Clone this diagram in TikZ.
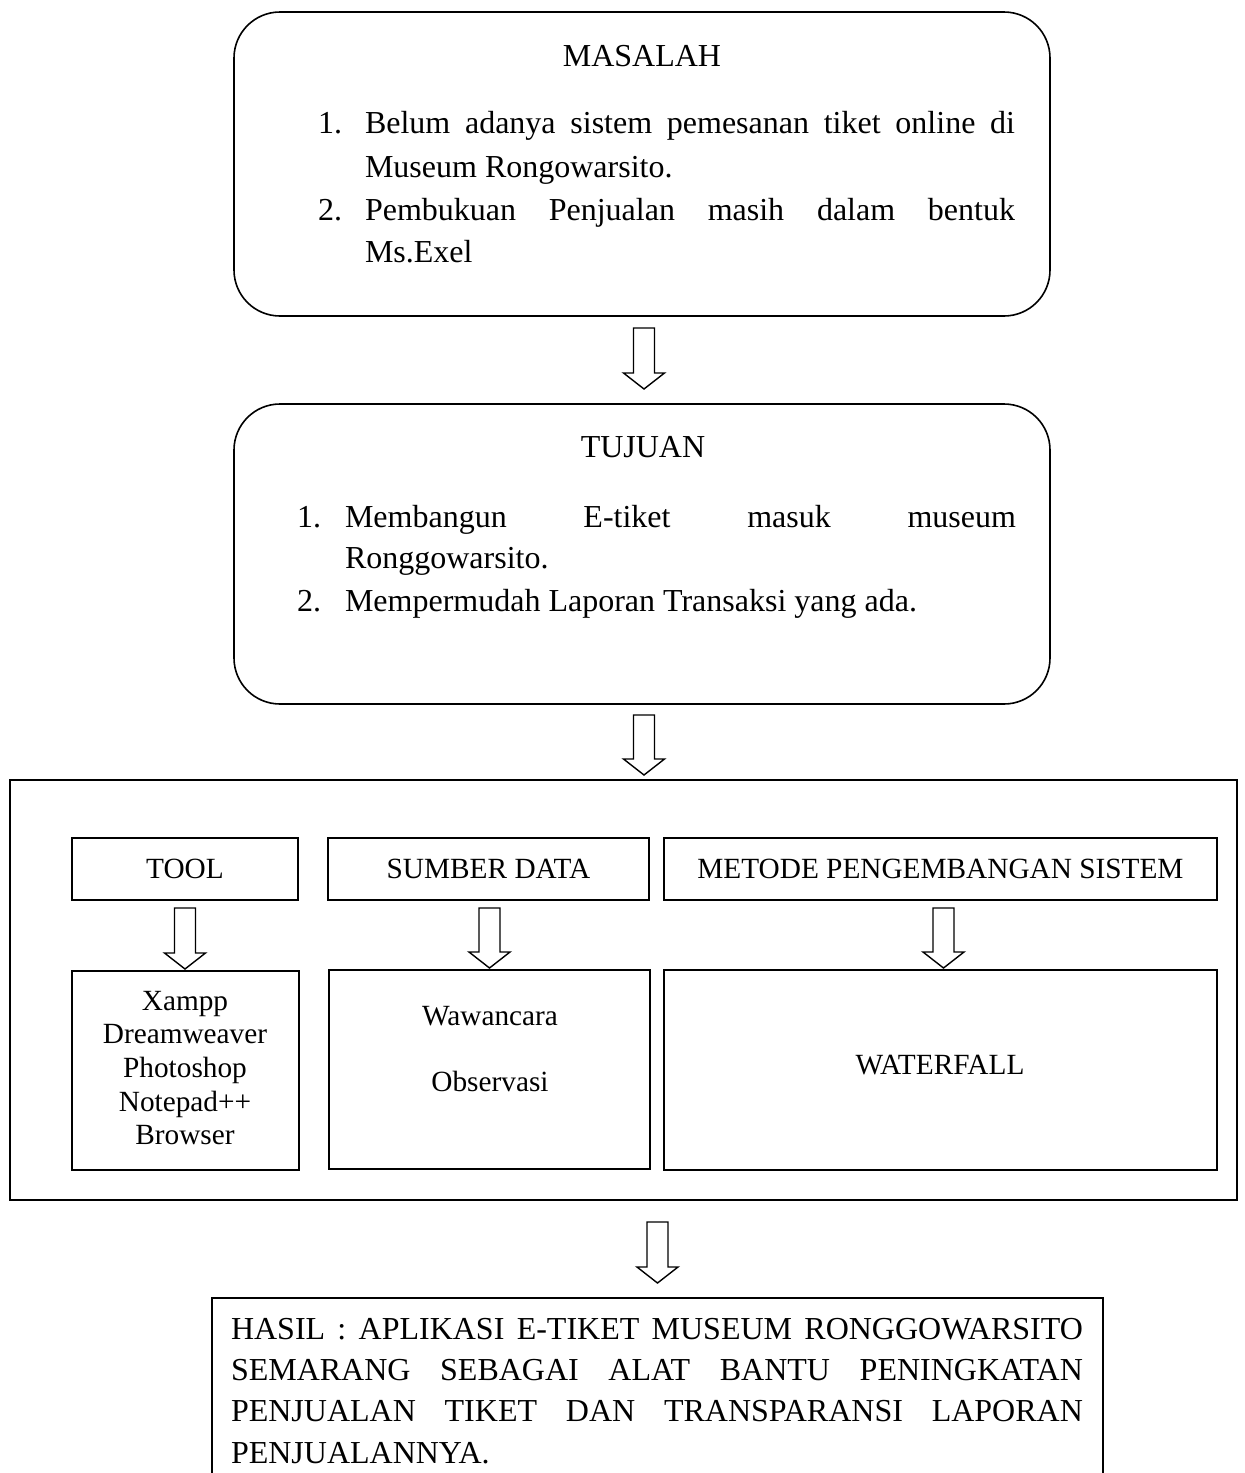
\documentclass[tikz,border=0pt]{standalone}
\usepackage{fontspec}
\setmainfont{Liberation Serif}
\usetikzlibrary{calc}

% a line of text spread to a fixed width (justified)
\newcommand\jline[2]{\makebox[#1][s]{#2}}

% hollow block arrow: shaft starts at #1, tip at #2 (x taken from #1)
\newcommand\blockarrow[2]{%
  \draw[hollow] let \p1=(#1), \p2=(#2) in
    (\x1-10.5pt,\y1) -- (\x1+10.5pt,\y1) -- (\x1+10.5pt,\y2+16pt)
    -- (\x1+20.5pt,\y2+16pt) -- (\x1,\y2) -- (\x1-20.5pt,\y2+16pt)
    -- (\x1-10.5pt,\y2+16pt) -- cycle;}

\tikzset{
  box/.style={draw, line width=1.6pt, inner sep=0pt, outer sep=0pt, anchor=north west},
  roundbox/.style={box, rounded corners=46pt},
  bigtxt/.style={font=\fontsize{32}{43}\selectfont, inner sep=0pt, outer sep=0pt},
  smalltxt/.style={font=\fontsize{29.3}{33.7}\selectfont, inner sep=0pt, outer sep=0pt, align=center},
  hollow/.style={draw, line width=1.4pt, fill=white, line join=miter},
}

\begin{document}
\begin{tikzpicture}[x=1pt,y=-1pt]
\clip (0,0) rectangle (1245,1473);
\fill[white] (0,0) rectangle (1245,1473);

% --- MASALAH ---
\node[roundbox, minimum width=816pt, minimum height=304pt] (masalah) at (234,12) {};
\node[bigtxt, anchor=base] (masalahT) at (642,66) {MASALAH};
\node[bigtxt, anchor=base west] (m1n) at (318,133) {1.};
\node[bigtxt, anchor=base west] (m1a) at (365,133) {\jline{650pt}{Belum adanya sistem pemesanan tiket online di}};
\node[bigtxt, anchor=base west] (m1b) at (365,177) {Museum Rongowarsito.};
\node[bigtxt, anchor=base west] (m2n) at (318,220) {2.};
\node[bigtxt, anchor=base west] (m2a) at (365,220) {\jline{650pt}{Pembukuan Penjualan masih dalam bentuk}};
\node[bigtxt, anchor=base west] (m2b) at (365,262) {Ms.Exel};

% --- TUJUAN ---
\node[roundbox, minimum width=816pt, minimum height=300pt] (tujuan) at (234,404) {};
\node[bigtxt, anchor=base] (tujuanT) at (643,457) {TUJUAN};
\node[bigtxt, anchor=base west] (t1n) at (297,527) {1.};
\node[bigtxt, anchor=base west] (t1a) at (345,527) {\jline{671pt}{Membangun E-tiket masuk museum}};
\node[bigtxt, anchor=base west] (t1b) at (345,568) {Ronggowarsito.};
\node[bigtxt, anchor=base west] (t2n) at (297,611) {2.};
\node[bigtxt, anchor=base west] (t2a) at (345,611) {Mempermudah Laporan Transaksi yang ada.};

% --- frame with the three columns ---
\node[box, minimum width=1227pt, minimum height=420pt] (outer) at (10,780) {};

\node[box, minimum width=226pt, minimum height=62pt] (tool) at (72,838) {};
\node[smalltxt] (toolT) at (tool.center) {TOOL};
\node[box, minimum width=321pt, minimum height=62pt] (sumber) at (328,838) {};
\node[smalltxt] (sumberT) at (sumber.center) {SUMBER DATA};
\node[box, minimum width=553pt, minimum height=62pt] (metode) at (664,838) {};
\node[smalltxt] (metodeT) at (metode.center) {METODE PENGEMBANGAN SISTEM};

\node[box, minimum width=227pt, minimum height=199pt] (toolitems) at (72,971) {};
\node[smalltxt] (toolL) at (185,1068) {Xampp\\Dreamweaver\\Photoshop\\Notepad++\\Browser};
\node[box, minimum width=321pt, minimum height=199pt] (sumberitems) at (329,970) {};
\node[smalltxt, anchor=base] (sumberL1) at (490,1025) {Wawancara};
\node[smalltxt, anchor=base] (sumberL2) at (490,1091) {Observasi};
\node[box, minimum width=553pt, minimum height=200pt] (metodeitems) at (664,970) {};
\node[smalltxt, anchor=base] (metodeL) at (940,1074) {WATERFALL};

% --- HASIL ---
\node[box, minimum width=891pt, minimum height=260pt] (hasil) at (212,1298) {};
\node[bigtxt, anchor=base west] (h1) at (231,1339) {\jline{852pt}{HASIL : APLIKASI E-TIKET MUSEUM RONGGOWARSITO}};
\node[bigtxt, anchor=base west] (h2) at (231,1380) {\jline{852pt}{SEMARANG SEBAGAI ALAT BANTU PENINGKATAN}};
\node[bigtxt, anchor=base west] (h3) at (231,1421) {\jline{852pt}{PENJUALAN TIKET DAN TRANSPARANSI LAPORAN}};
\node[bigtxt, anchor=base west] (h4) at (231,1463) {PENJUALANNYA.};

% --- arrows ---
\blockarrow{$(masalah.south)+(2,12)$}{$(tujuan.north)+(0,-15)$}
\blockarrow{$(tujuan.south)+(2,11)$}{$(outer.north)+(0,-5)$}
\blockarrow{$(tool.south)+(0,8)$}{$(toolitems.north)+(0,-2)$}
\blockarrow{$(sumber.south)+(1,8)$}{$(sumberitems.north)+(0,-2)$}
\blockarrow{$(metode.south)+(3,8)$}{$(metodeitems.north)+(0,-2)$}
\blockarrow{$(hasil.north |- outer.south)+(0,22)$}{$(hasil.north)+(0,-15)$}
\end{tikzpicture}
\end{document}
